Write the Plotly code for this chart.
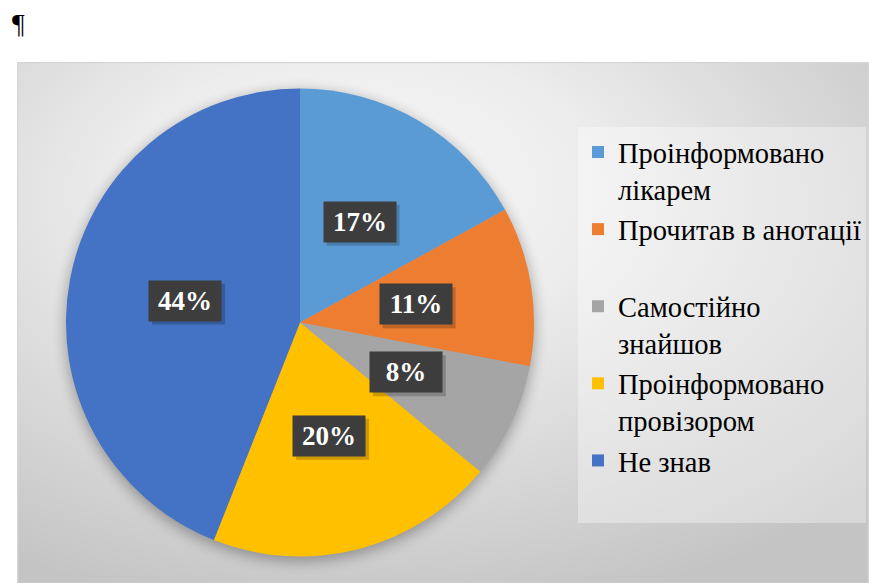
import base64
import math
import plotly.graph_objects as go

# ---- data ----
labels = ["Проінформовано<br>лікарем", "Прочитав в анотації", "Самостійно<br>знайшов",
          "Проінформовано<br>провізором", "Не знав"]
values = [17, 11, 8, 20, 44]
colors = ["#5B9BD5", "#ED7D31", "#A5A5A5", "#FFC000", "#4472C4"]

# ---- geometry (pixels) ----
W, H = 869, 583
CX, CY, R = 300, 322.5, 234          # pie centre / radius
AX0, AY0, AX1, AY1 = 17, 62, 869, 583  # chart area
LABEL_RF = 0.5
BOX_W, BOX_H = 72, 40
SERIF = "Liberation Serif, Times New Roman, DejaVu Serif, serif"

def px(x):
    return x / W

def py(y):
    return 1 - y / H

# background gradient + pie shadow as an svg image
aw, ah = AX1 - AX0, AY1 - AY0
svg = f'''<svg xmlns="http://www.w3.org/2000/svg" width="{aw}" height="{ah}" viewBox="0 0 {aw} {ah}">
<defs>
<radialGradient id="g" cx="0.42" cy="0.30" r="0.78" fx="0.40" fy="0.22">
<stop offset="0" stop-color="#F7F7F7"/>
<stop offset="0.35" stop-color="#EDEDED"/>
<stop offset="0.75" stop-color="#D4D4D4"/>
<stop offset="1" stop-color="#C4C4C4"/>
</radialGradient>
<filter id="b" x="-20%" y="-20%" width="140%" height="140%"><feGaussianBlur stdDeviation="7"/></filter>
</defs>
<rect x="0" y="0" width="{aw}" height="{ah}" fill="url(#g)"/>
<rect x="0.5" y="0.5" width="{aw-1}" height="{ah}" fill="none" stroke="#D6D6D6" stroke-width="1.5"/>
<circle cx="{CX-AX0}" cy="{CY-AY0+4}" r="{R+1}" fill="#000" opacity="0.30" filter="url(#b)"/>
</svg>'''
src = "data:image/svg+xml;base64," + base64.b64encode(svg.encode()).decode()

legend_labels = [l if "<br>" in l else l + "<br>\u00a0" for l in labels]

fig = go.Figure(go.Pie(
    labels=legend_labels,
    values=values,
    marker=dict(colors=colors, line=dict(width=0)),
    sort=False,
    direction="clockwise",
    rotation=0,
    textinfo="none",
    textposition="none",
    domain=dict(x=[px(CX - R), px(CX + R)], y=[py(CY + R), py(CY - R)]),
    hovertemplate="%{label}: %{percent}<extra></extra>",
))

# percentage labels in dark boxes, positioned from the slice mid-angles
annotations = []
shapes = []
total = sum(values)
cum = 0
for v in values:
    mid = (cum + v / 2) / total * 2 * math.pi
    cum += v
    lx = CX + LABEL_RF * R * math.sin(mid)
    ly = CY - LABEL_RF * R * math.cos(mid)
    # soft drop shadow of the label box
    shapes.append(dict(type="rect", xref="paper", yref="paper",
                       x0=px(lx - BOX_W / 2 + 3), x1=px(lx + BOX_W / 2 + 4),
                       y0=py(ly + BOX_H / 2 + 4), y1=py(ly - BOX_H / 2 + 3),
                       fillcolor="rgba(0,0,0,0.2)", line=dict(width=0), layer="above"))
    annotations.append(dict(xref="paper", yref="paper", x=px(lx), y=py(ly), showarrow=False,
                            xanchor="center", yanchor="middle",
                            width=BOX_W, height=BOX_H, borderpad=0, text=f"<b>{v}%</b>",
                            bgcolor="#3D3D3D",
                            font=dict(family=SERIF, size=27, color="white")))

annotations.append(dict(text="¶", xref="paper", yref="paper", x=px(10), y=py(6),
                        xanchor="left", yanchor="top", showarrow=False,
                        font=dict(family=SERIF, size=28, color="black")))

fig.update_layout(
    width=W, height=H,
    margin=dict(l=0, r=0, t=0, b=0),
    paper_bgcolor="white",
    plot_bgcolor="white",
    images=[dict(source=src, xref="paper", yref="paper", x=px(AX0), y=py(AY0),
                 sizex=aw / W, sizey=ah / H, sizing="stretch", layer="below",
                 xanchor="left", yanchor="top")],
    showlegend=True,
    legend=dict(x=px(578), y=py(127), xanchor="left", yanchor="top",
                bgcolor="rgba(255,255,255,0.35)", borderwidth=0,
                font=dict(family=SERIF, size=28.5, color="black"),
                valign="top", itemwidth=30, traceorder="normal"),
    annotations=annotations,
    shapes=shapes,
)

fig.write_html("out.html", config={"displayModeBar": False},
               post_script="document.body.style.margin='0';document.body.style.overflow='hidden';")
